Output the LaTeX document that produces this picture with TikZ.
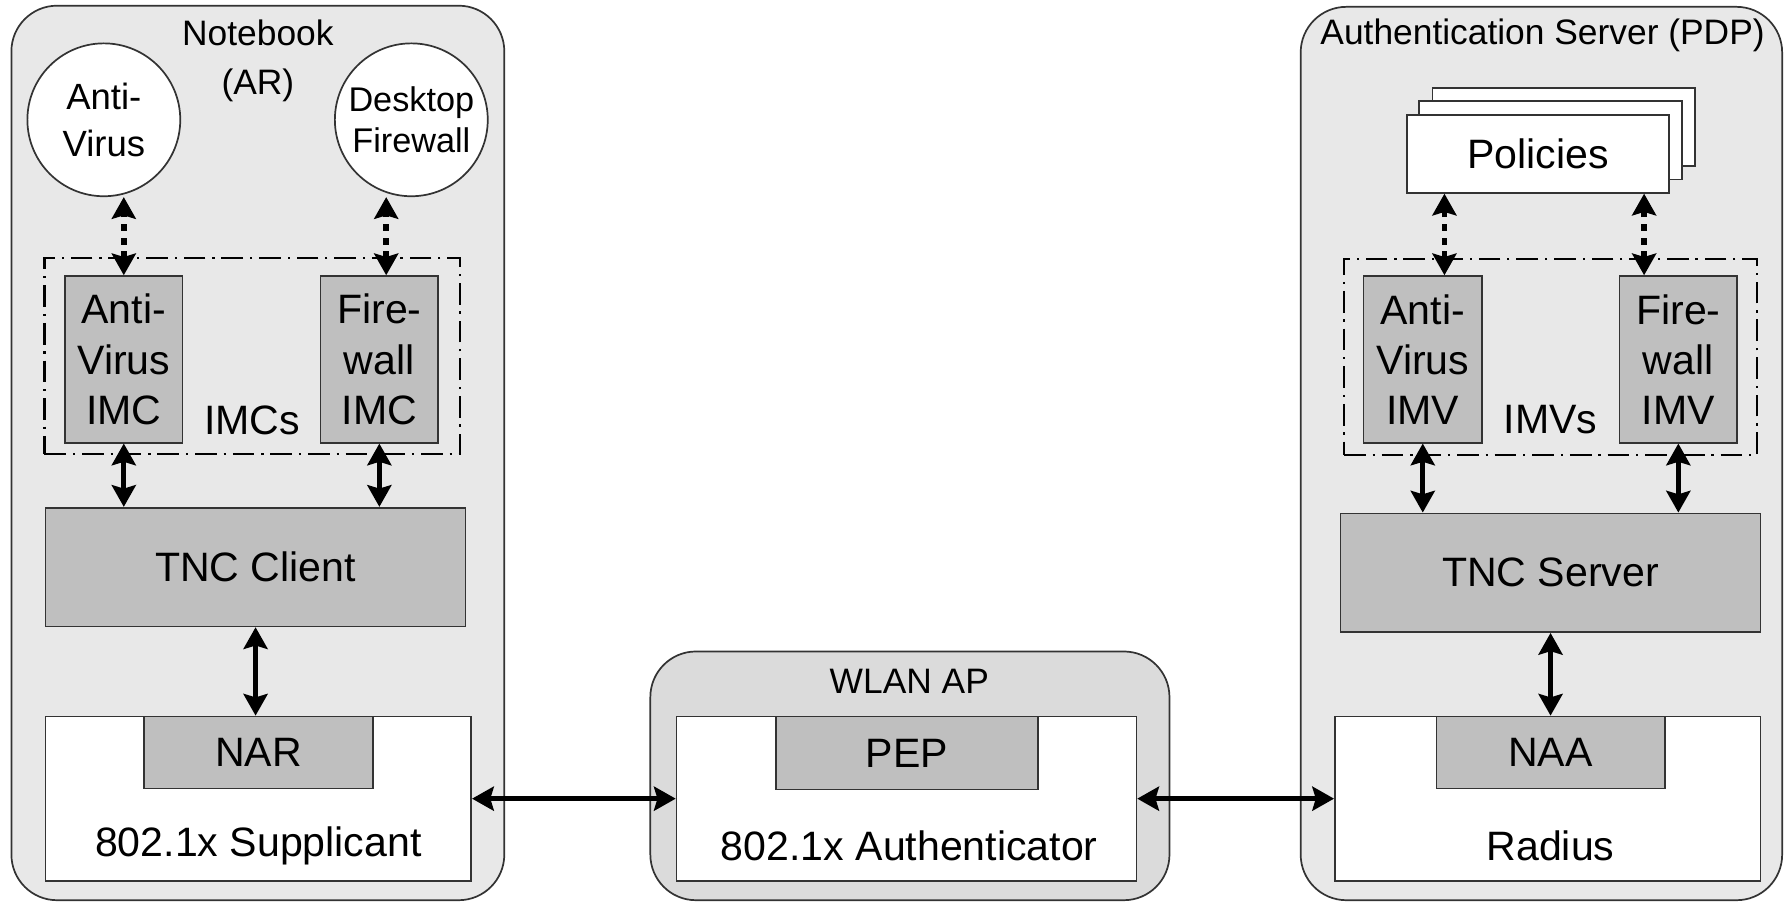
\documentclass[tikz,border=0pt]{standalone}
\usepackage{fontspec}
\setmainfont{Liberation Sans}
\usetikzlibrary{arrows.meta}

\begin{document}
\begin{tikzpicture}[x=1pt,y=-1pt,
    outer/.style={draw=black!80,line width=1.5pt,rounded corners=40pt,fill=black!9,inner sep=0pt},
    greybox/.style={draw=black!80,line width=1.5pt,fill=black!25,inner sep=0pt},
    whitebox/.style={draw=black!80,line width=1.5pt,fill=white,inner sep=0pt},
    group/.style={draw=black,line width=1.8pt,inner sep=0pt,dash pattern=on 19pt off 6pt on 2pt off 6pt},
    txt/.style={font=\fontsize{36}{44}\selectfont,align=center,inner sep=0pt},
    title/.style={font=\fontsize{31}{43}\selectfont,align=center,inner sep=0pt},
    link/.style={{Stealth[length=19pt,width=21pt,inset=3pt]}-{Stealth[length=19pt,width=21pt,inset=3pt]},line width=4.5pt},
    dotlink/.style={link,line width=5pt,dash pattern=on 6pt off 6pt},
  ]
    \useasboundingbox[fill=white] (0,0) rectangle (1568,791.4);

    % Notebook (AR)
    \node[outer,minimum width=432pt,minimum height=784pt] (nb) at (226,397) {};
    \node[title] (nbtitle) at (226,53) {Notebook\\(AR)};
    \node[circle,draw=black!80,line width=1.5pt,fill=white,minimum size=134pt,inner sep=0pt,
          font=\fontsize{32}{41}\selectfont,align=center] (av) at (91,105) {Anti-\\Virus};
    \node[circle,draw=black!80,line width=1.5pt,fill=white,minimum size=134pt,inner sep=0pt,
          font=\fontsize{30}{36}\selectfont,align=center] (dfw) at (360.5,105) {Desktop\\Firewall};

    % IMCs
    \node[group,minimum width=364pt,minimum height=172pt] (imcs) at (221,312) {};
    \node[greybox,txt,minimum width=103pt,minimum height=146pt] (avimc) at (108.5,315) {Anti-\\Virus\\IMC};
    \node[greybox,txt,minimum width=103pt,minimum height=146pt] (fwimc) at (332.5,315) {Fire-\\wall\\IMC};
    \node[txt] (imcslbl) at (221,368) {IMCs};

    % TNC Client and supplicant
    \node[greybox,txt,minimum width=368pt,minimum height=104pt] (tncc) at (224,497) {TNC Client};
    \node[whitebox,minimum width=373pt,minimum height=144pt] (supp) at (226.5,700) {};
    \node[greybox,txt,minimum width=201pt,minimum height=63pt] (nar) at (226.5,659.5) {NAR};
    \node[txt] (supptxt) at (226.5,741) {802.1x Supplicant};

    % WLAN AP
    \node[outer,fill=black!14,minimum width=455pt,minimum height=218pt] (ap) at (797.5,680) {};
    \node[title] (aptitle) at (797,597) {WLAN AP};
    \node[whitebox,minimum width=403pt,minimum height=144pt] (auth) at (794.5,700) {};
    \node[greybox,txt,minimum width=230pt,minimum height=64pt] (pep) at (795,660) {PEP};
    \node[txt] (authtxt) at (797,741) {802.1x Authenticator};

    % Authentication Server (PDP)
    \node[outer,minimum width=422pt,minimum height=783pt] (as) at (1351,397.5) {};
    \node[title] (astitle) at (1352,31) {Authentication Server (PDP)};
    \node[whitebox,minimum width=230pt,minimum height=68.5pt] (pol3) at (1370.5,111.5) {};
    \node[whitebox,minimum width=230pt,minimum height=68.5pt] (pol2) at (1359,123) {};
    \node[whitebox,txt,minimum width=230pt,minimum height=68.5pt] (pol) at (1348,134.75) {Policies};

    % IMVs
    \node[group,minimum width=362pt,minimum height=172pt] (imvs) at (1359,313) {};
    \node[greybox,txt,minimum width=104pt,minimum height=146pt] (avimv) at (1247,315) {Anti-\\Virus\\IMV};
    \node[greybox,txt,minimum width=103pt,minimum height=146pt] (fwimv) at (1471,315) {Fire-\\wall\\IMV};
    \node[txt] (imvslbl) at (1359,367.5) {IMVs};

    % TNC Server and Radius
    \node[greybox,txt,minimum width=368pt,minimum height=104pt] (tncs) at (1359,502) {TNC Server};
    \node[whitebox,minimum width=373pt,minimum height=144pt] (radius) at (1356.5,700) {};
    \node[greybox,txt,minimum width=200pt,minimum height=63pt] (naa) at (1359,659.5) {NAA};
    \node[txt] (radtxt) at (1359,741) {Radius};

    % Connections
    \draw[dotlink] (avimc.north) -- (avimc.north |- av.south);
    \draw[dotlink] ([xshift=6pt]fwimc.north) -- ([xshift=6pt]fwimc.north |- dfw.south);
    \draw[link] (avimc.south) -- (avimc.south |- tncc.north);
    \draw[link] (fwimc.south) -- (fwimc.south |- tncc.north);
    \draw[link] (tncc.south) -- (tncc.south |- nar.north);

    \draw[link] (supp.east) -- (auth.west);
    \draw[link] (auth.east) -- (radius.west);

    \draw[dotlink] ([xshift=19pt]avimv.north) -- ([xshift=19pt]avimv.north |- pol.south);
    \draw[dotlink] ([xshift=-30pt]fwimv.north) -- ([xshift=-30pt]fwimv.north |- pol.south);
    \draw[link] (avimv.south) -- (avimv.south |- tncs.north);
    \draw[link] (fwimv.south) -- (fwimv.south |- tncs.north);
    \draw[link] (tncs.south) -- (naa.north);
\end{tikzpicture}
\end{document}
